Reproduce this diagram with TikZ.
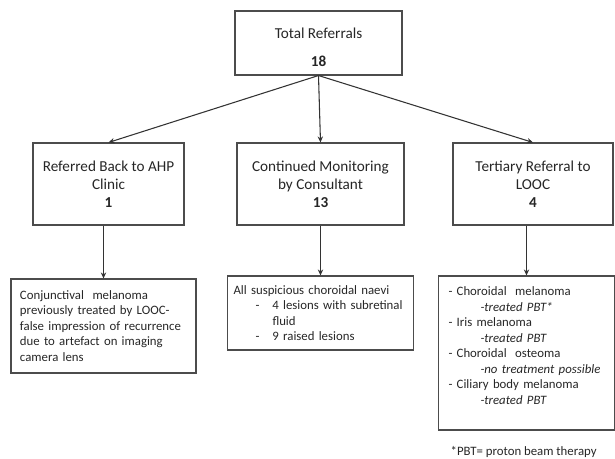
\documentclass[tikz,border=0pt]{standalone}
\usepackage{fontspec}
\setmainfont{Carlito}
\usetikzlibrary{arrows.meta}

\newcommand{\headsize}{\fontsize{11.4pt}{13.5pt}\selectfont}
\newcommand{\notesize}{\fontsize{9.6pt}{11.6pt}\selectfont}

\begin{document}
\begin{tikzpicture}[
    x=0.75pt, y=-0.75pt,
    box/.style={draw=black!70, line width=0.8pt, rectangle, text=black!85},
    headbox/.style={box, inner sep=0pt, align=center, font=\headsize},
    notebox/.style={box, inner ysep=0pt, align=left, font=\notesize},
    link/.style={draw=black!80, line width=0.8pt, -{Stealth[length=4.5pt, width=4pt]}},
]
\useasboundingbox (0,0) rectangle (615,459);

% Total referrals
\node[headbox, minimum width=125.25pt, minimum height=48pt]
      (total) at (318.5,43) {\rule{0pt}{14pt}Total Referrals\\[7.5pt]\textbf{18}};

% Outcome boxes
\node[headbox, minimum width=113.25pt, minimum height=61.5pt]
      (ahp) at (108.5,184) {Referred Back to AHP\\Clinic\\\textbf{1}};
\node[headbox, minimum width=125.25pt, minimum height=61.5pt]
      (monitor) at (320.5,184) {Continued Monitoring\\by Consultant\\\textbf{13}};
\node[headbox, minimum width=120pt, minimum height=61.5pt]
      (looc) at (533,184) {Tertiary Referral to\\LOOC\\\textbf{4}};

\draw[link] (total.south) -- (ahp.north);
\draw[link] (total.south) -- (monitor.north);
\draw[link] (total.south) -- (looc.north);

% Detail boxes
\node[notebox, minimum width=138.75pt, minimum height=70.5pt,
      inner xsep=6.75pt, text width=125.25pt]
      (ahpnote) at (103.5,326) {
    Conjunctival\ \ melanoma\\
    previously treated by LOOC-\\
    false impression of recurrence\\
    due to artefact on imaging\\
    camera lens
};
\node[notebox, minimum width=139.5pt, minimum height=55.5pt,
      inner xsep=4.5pt, text width=130.5pt]
      (monitornote) at (320.5,313) {
    All suspicious choroidal naevi\\
    \mbox{\hspace*{16.5pt}-\hspace{9.75pt}4 lesions with subretinal}\\
    \hspace*{29.25pt}fluid\\
    \hspace*{16.5pt}-\hspace{9.75pt}9 raised lesions
};
\node[notebox, minimum width=132pt, minimum height=115.5pt,
      inner xsep=7.5pt, text width=117pt]
      (loocnote) at (526.5,353) {
    - Choroidal\ \ melanoma\\
    \mbox{\hspace*{24pt}\textit{-treated PBT*}}\\
    - Iris melanoma\\
    \mbox{\hspace*{24pt}\textit{-treated PBT}}\\
    - Choroidal\ \ osteoma\\
    \mbox{\hspace*{24pt}\textit{-no treatment possible}}\\
    - Ciliary body melanoma\\
    \mbox{\hspace*{24pt}\textit{-treated PBT}}\par\vspace*{11.25pt}
};

\draw[link] (ahp.south -| ahpnote.north) -- (ahpnote.north);
\draw[link] (monitor.south -| monitornote.north) -- (monitornote.north);
\draw[link] (looc.south -| loocnote.north) -- (loocnote.north);

% Footnote
\node[font=\notesize, text=black!85, anchor=west]
      (pbtnote) at (446,452) {*PBT= proton beam therapy};

\end{tikzpicture}
\end{document}
